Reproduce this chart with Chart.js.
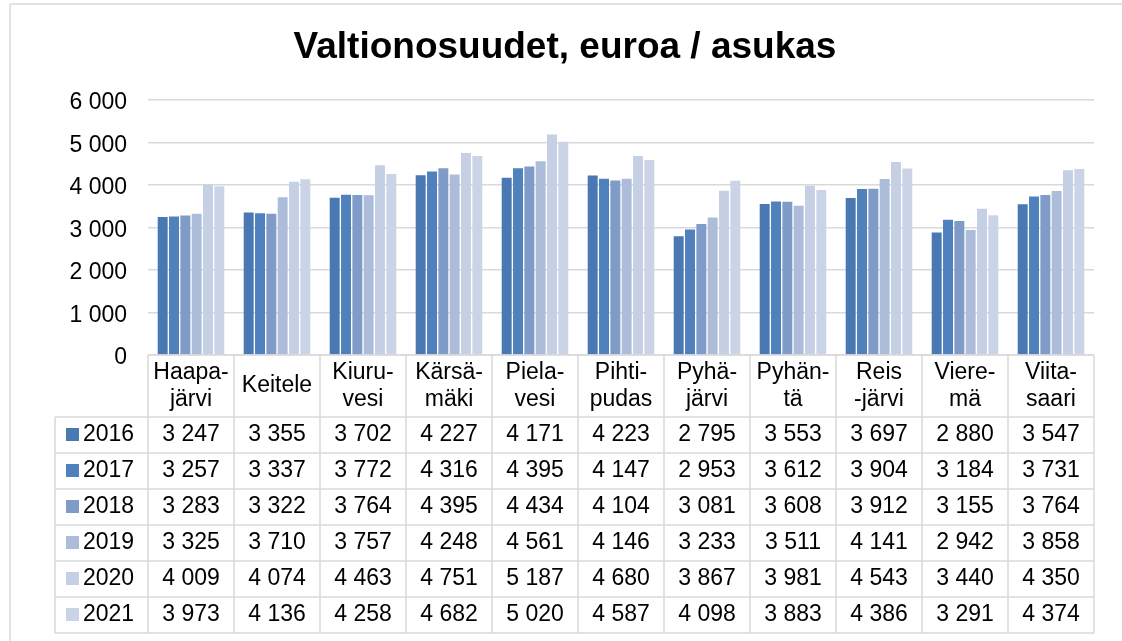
<!DOCTYPE html>
<html>
<head>
<meta charset="utf-8">
<script src="https://cdn.jsdelivr.net/npm/chart.js@4"></script>
<style>
html,body{margin:0;padding:0;background:#fff;}
#c{display:block;}
</style>
</head>
<body>
<canvas id="c" width="1122" height="641"></canvas>
<script>
const categories = [
  ["Haapa-","järvi"], ["Keitele"], ["Kiuru-","vesi"], ["Kärsä-","mäki"], ["Piela-","vesi"],
  ["Pihti-","pudas"], ["Pyhä-","järvi"], ["Pyhän-","tä"], ["Reis","-järvi"], ["Viere-","mä"], ["Viita-","saari"]
];
const years = ["2016","2017","2018","2019","2020","2021"];
const v2016 = [3247,3355,3702,4227,4171,4223,2795,3553,3697,2880,3547];
const v2017 = [3257,3337,3772,4316,4395,4147,2953,3612,3904,3184,3731];
const v2018 = [3283,3322,3764,4395,4434,4104,3081,3608,3912,3155,3764];
const v2019 = [3325,3710,3757,4248,4561,4146,3233,3511,4141,2942,3858];
const v2020 = [4009,4074,4463,4751,5187,4680,3867,3981,4543,3440,4350];
const v2021 = [3973,4136,4258,4682,5020,4587,4098,3883,4386,3291,4374];
const yTicks = [0,1000,2000,3000,4000,5000,6000];
const title = "Valtionosuudet, euroa / asukas";

const seriesValues = [v2016,v2017,v2018,v2019,v2020,v2021];
const colors = ['#4a78b2','#4f81bd','#7f9cc8','#adbdd9','#c6d0e5','#cbd4e7'];
const FONT = '"Liberation Sans", Arial, sans-serif';
const FS = 23;
const LINE = '#d9d9d9';

function fmt(v){ return String(v).replace(/\B(?=(\d{3})+(?!\d))/g,' '); }

const tablePlugin = {
  id:'tablePlugin',
  beforeDraw(chart){
    const ctx = chart.ctx;
    ctx.save();
    ctx.fillStyle = '#fff';
    ctx.fillRect(0,0,chart.width,chart.height);
    ctx.restore();
  },
  afterDraw(chart){
    const ctx = chart.ctx;
    const xs = chart.scales.x;
    const area = chart.chartArea;
    const n = categories.length;
    const colW = (area.right - area.left) / n;
    const top = area.bottom;          // 0 line
    const labelH = 62;
    const rowH = 36;
    const rowsTop = top + labelH;
    const bottom = rowsTop + rowH * years.length;
    const legL = 55;
    ctx.save();
    ctx.strokeStyle = LINE;
    ctx.lineWidth = 1.5;
    ctx.beginPath();
    ctx.moveTo(area.left, top); ctx.lineTo(area.right, top);
    for (let r = 0; r <= years.length; r++) {
      const y = rowsTop + r * rowH;
      ctx.moveTo(legL, y); ctx.lineTo(area.right, y);
    }
    for (let i = 0; i <= n; i++) {
      const x = area.left + i * colW;
      ctx.moveTo(x, top); ctx.lineTo(x, bottom);
    }
    ctx.moveTo(legL, rowsTop); ctx.lineTo(legL, bottom);
    ctx.moveTo(10, 4); ctx.lineTo(chart.width, 4);
    ctx.moveTo(10, 4); ctx.lineTo(10, chart.height);
    ctx.stroke();

    // title
    ctx.fillStyle = '#000';
    ctx.textAlign = 'center';
    ctx.textBaseline = 'alphabetic';
    ctx.font = 'bold 37px ' + FONT;
    ctx.fillText(title, 565, 58);

    ctx.font = FS + 'px ' + FONT;
    categories.forEach((lab, i) => {
      const cx = xs.getPixelForValue(i);
      if (lab.length === 1) {
        ctx.fillText(lab[0], cx, top + 37);
      } else {
        ctx.fillText(lab[0], cx, top + 24);
        ctx.fillText(lab[1], cx, top + 51);
      }
    });
    years.forEach((yr, r) => {
      const base = rowsTop + r * rowH + 24;
      ctx.fillStyle = colors[r];
      ctx.fillRect(66, rowsTop + r * rowH + 11, 13, 13);
      ctx.fillStyle = '#000';
      ctx.textAlign = 'left';
      ctx.fillText(yr, 83, base);
      ctx.textAlign = 'center';
      seriesValues[r].forEach((v, i) => {
        ctx.fillText(fmt(v), xs.getPixelForValue(i), base);
      });
    });
    ctx.restore();
  }
};

new Chart(document.getElementById('c'), {
  type: 'bar',
  data: {
    labels: categories,
    datasets: years.map((yr, k) => ({
      label: yr,
      data: seriesValues[k],
      backgroundColor: colors[k],
      borderWidth: 0,
      categoryPercentage: 0.79,
      barPercentage: 0.88
    }))
  },
  options: {
    responsive: false,
    animation: false,
    devicePixelRatio: 1,
    layout: { padding: { left: 0, right: 28, top: 100, bottom: 286 } },
    plugins: {
      legend: { display: false },
      tooltip: { enabled: false },
      title: { display: false }
    },
    scales: {
      x: { display: false },
      y: {
        min: 0, max: 6000,
        afterBuildTicks(scale){ scale.ticks = yTicks.map(v => ({value: v})); },
        afterFit(scale){ scale.width = 148; },
        border: { display: false },
        grid: { color: LINE, lineWidth: 1.5, drawTicks: false },
        ticks: {
          color: '#000',
          font: { family: FONT, size: FS },
          padding: 21,
          labelOffset: 3,
          callback: (v) => fmt(v)
        }
      }
    }
  },
  plugins: [tablePlugin]
});
</script>
</body>
</html>
